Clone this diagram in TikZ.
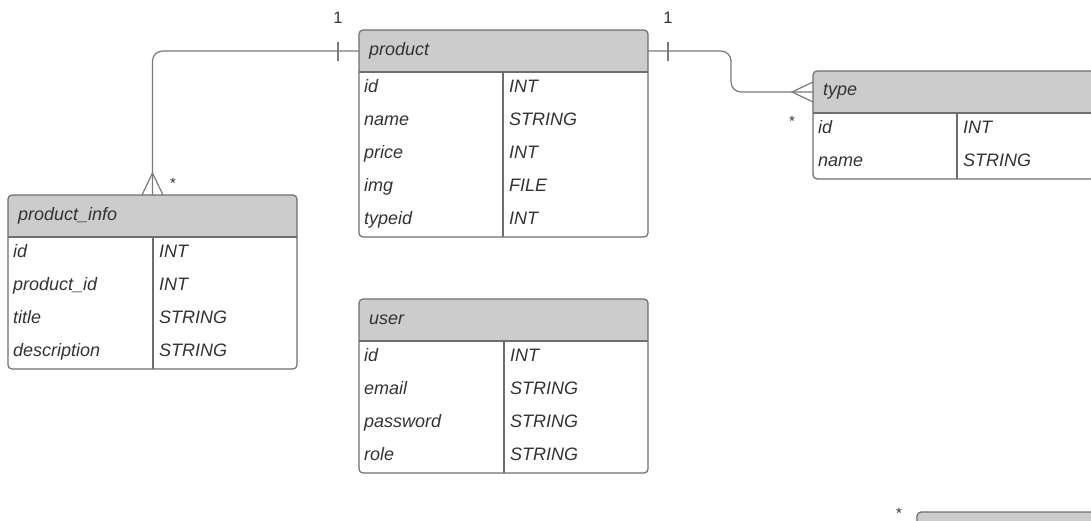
\documentclass[tikz,border=0pt]{standalone}
\usepackage{fontspec}
\setmainfont{Liberation Sans}
\usetikzlibrary{calc}
\definecolor{headgray}{HTML}{CCCCCC}
\definecolor{bordergray}{HTML}{6E6E6E}
\definecolor{conngray}{HTML}{7A7A7A}
\definecolor{txtgray}{HTML}{333333}
\tikzset{
  hdr/.style={rectangle, minimum height=42, anchor=north west, inner sep=0, outer sep=0},
  htext/.style={anchor=west, text=txtgray, font=\fontsize{18}{21}\selectfont\itshape, inner sep=0},
  ftext/.style={anchor=base west, text=txtgray, font=\fontsize{18}{21}\selectfont\itshape, inner sep=0},
  border/.style={draw=bordergray, line width=1.2},
  conn/.style={draw=conngray, line width=1.2},
  card/.style={anchor=base, text=txtgray, font=\fontsize{16.5}{19}\selectfont, inner sep=0},
  star/.style={anchor=base, text=txtgray, font=\fontsize{15}{17}\selectfont, inner sep=0}
}
\newcommand{\ertable}[8]{%
  \node[hdr, minimum width=#4] (#1H) at (#2,#3) {};
  \fill[headgray] (#1H.south west) {[rounded corners=4] -- (#1H.north west) -- (#1H.north east)} -- (#1H.south east) -- cycle;
  \draw[border, rounded corners=4] (#1H.north west) rectangle ($(#1H.south east)+(0,33*#6)$);
  \draw[border] (#1H.south west) -- (#1H.south east);
  \draw[border] ($(#1H.south west)+(#5,0)$) -- ($(#1H.south west)+(#5,33*#6)$);
  \node[htext] (#1T) at ($(#1H.west)+(10,0)$) {#7};
  \foreach \rowa/\rowb [count=\rowi] in {#8} {
    \node[ftext] (#1-\rowi-a) at ($(#1H.south west)+(5,33*\rowi-13)$) {\rowa};
    \node[ftext] (#1-\rowi-b) at ($(#1H.south west)+(#5+6,33*\rowi-13)$) {\rowb};
  }%
}
\begin{document}
\begin{tikzpicture}[x=1pt,y=-1pt]
\useasboundingbox (0,0) rectangle (1091,520);
\clip (0,0) rectangle (1091,520);
\fill[white] (0,0) rectangle (1091,520);

\ertable{product}{359}{30}{289}{144}{5}{product}{id/INT, name/STRING, price/INT, img/FILE, typeid/INT}
\ertable{pinfo}{8}{195}{289}{145}{4}{product\_info}{id/INT, product\_id/INT, title/STRING, description/STRING}
\ertable{user}{359}{299}{289}{145}{4}{user}{id/INT, email/STRING, password/STRING, role/STRING}
\ertable{type}{813}{71}{300}{144}{2}{type}{id/INT, name/STRING}

% partial table at bottom right
\node[hdr, minimum width=300] (extraH) at (917,512) {};
\fill[headgray] (extraH.south west) {[rounded corners=4] -- (extraH.north west) -- (extraH.north east)} -- (extraH.south east) -- cycle;
\draw[border, rounded corners=4] (extraH.north west) rectangle ($(extraH.south east)+(0,60)$);

% product -- product_info
\draw[conn, rounded corners=10] (productH.west) -| (pinfoH.north);
\coordinate (bar1) at ($(productH.west)+(-21,0)$);
\draw[conn] ($(bar1)+(0,-9.5)$) -- ($(bar1)+(0,9.5)$);
\coordinate (crow1) at ($(pinfoH.north)+(0,-22)$);
\draw[conn] ($(pinfoH.north)+(-10.5,0)$) -- (crow1) -- ($(pinfoH.north)+(10.5,0)$);
\node[card] (one1) at (338,23) {1};
\node[star] (star1) at (173,188) {*};

% product -- type
\coordinate (bend) at (731,51);
\draw[conn, rounded corners=10] (productH.east) -- (bend) |- (typeH.west);
\coordinate (bar2) at ($(productH.east)+(20,0)$);
\draw[conn] ($(bar2)+(0,-9.5)$) -- ($(bar2)+(0,9.5)$);
\coordinate (crow2) at ($(typeH.west)+(-21,0)$);
\draw[conn] ($(typeH.west)+(0,-10)$) -- (crow2) -- ($(typeH.west)+(0,10)$);
\node[card] (one2) at (668,23) {1};
\node[star] (star2) at (792,126) {*};

\node[star] (star3) at (899,518) {*};
\end{tikzpicture}
\end{document}
